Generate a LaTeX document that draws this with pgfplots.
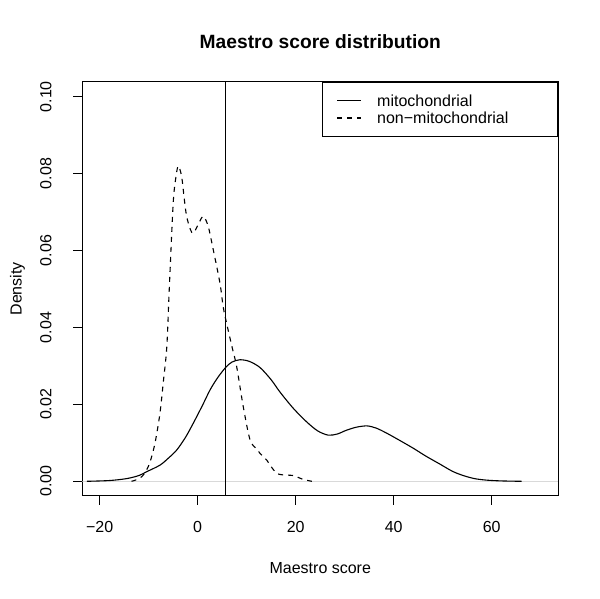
\documentclass[border=0pt]{standalone}
\usepackage{fontspec}
\setmainfont{Liberation Sans}
\usepackage{pgfplots}
\pgfplotsset{compat=1.18}
\begin{document}
\begin{tikzpicture}
\useasboundingbox (0,0) rectangle (600pt,599pt);
\begin{axis}[
  at={(82.3pt,103pt)}, anchor=south west,
  scale only axis, width=476pt, height=414.3pt,
  xmin=-23.55, xmax=73.6, ymin=-0.00382, ymax=0.1039,
  axis line style={line width=1pt},
  xtick={-20,0,20,40,60}, xticklabels={−20,0,20,40,60},
  ytick={0,0.02,0.04,0.06,0.08,0.10},
  yticklabels={0.00,0.02,0.04,0.06,0.08,0.10},
  xtick pos=left, ytick pos=left, tick align=outside,
  major tick length=9pt, tick style={black, line width=1pt},
  tick label style={font=\fontsize{16}{19}\selectfont},
  xticklabel style={anchor=base, yshift=-28pt},
  yticklabel style={xshift=-22pt, rotate=90, anchor=base},
  label style={font=\fontsize{16}{19}\selectfont},
  xlabel={Maestro score},
  xlabel style={at={(axis description cs:0.5,0)}, anchor=base, yshift=-77.3pt},
  ylabel={Density},
  ylabel style={at={(axis description cs:0,0.5)}, anchor=base, yshift=60.6pt},
  title={Maestro score distribution},
  title style={at={(axis description cs:0.5,1)}, anchor=base, yshift=27.4pt,
    font=\bfseries\fontsize{19.2}{23}\selectfont},
  legend cell align=left,
  legend image code/.code={\draw[#1] (0pt,0pt) -- (23.4pt,0pt);},
  legend style={at={(1,1)}, anchor=north east, draw=black, line width=1pt,
    inner xsep=14pt, inner ysep=9.85pt, row sep=0pt, column sep=16pt,
    font=\fontsize{16}{19}\selectfont,
    nodes={inner sep=0pt, text height=14.45pt, text depth=2.85pt, text width=166.6pt}},
]
\addplot[black!15, line width=0.8pt, forget plot] coordinates {(-23.55,0) (73.6,0)};
\addplot[black, line width=1.1pt, smooth, tension=0.5] coordinates {
(-22.6,0) (-18,0.0002) (-14.5,0.0007) (-12,0.0015) (-10.4,0.0025) (-7.7,0.0042)
(-6,0.0060) (-4.3,0.0081) (-2.5,0.0114) (-0.9,0.0151) (1,0.0198) (2.5,0.0237)
(4,0.0268) (5.7,0.0296) (7,0.0310) (8.6,0.0316) (10.5,0.0312) (12.7,0.0296)
(15,0.0264) (16.8,0.0232) (19.5,0.0190) (22.2,0.0155) (24.5,0.0131) (26.65,0.0120)
(28.5,0.0123) (30.4,0.0133) (32.5,0.0141) (34.6,0.0144) (36.5,0.0138) (38.6,0.0125)
(41,0.0108) (44,0.0086) (46.5,0.0066) (49.4,0.0045) (52,0.0026) (54.2,0.0015)
(56.5,0.0007) (59,0.0003) (62,0.0001) (66.1,0)};
\addlegendentry{mitochondrial}
\addplot[black, line width=1.1pt, dash pattern=on 5pt off 5pt, smooth, tension=0.5] coordinates {
(-13.5,0) (-12.5,0.0004) (-11.4,0.0012) (-10.5,0.0028) (-9.7,0.0051) (-8.7,0.0100)
(-7.7,0.0177) (-7,0.0260) (-6.3,0.0350) (-5.8,0.0500) (-5.0,0.0723) (-4.43,0.0792)
(-3.95,0.0820) (-3.27,0.0792) (-2.7,0.0730) (-2.24,0.0688) (-1.5,0.0655) (-0.9,0.0645)
(0,0.0665) (0.8,0.0685) (1.29,0.0688) (2.17,0.0662) (3.18,0.0602) (4.55,0.0515)
(5.2,0.0454) (5.9,0.0411) (7,0.0350) (7.96,0.0298) (9.3,0.0194) (10.7,0.0107)
(12,0.0085) (12.7,0.0073) (14.1,0.0055) (15,0.0038) (16.1,0.0021) (17.2,0.0017)
(18.5,0.0016) (19.5,0.0015) (20.2,0.0012) (21.5,0.0005) (23.3,0)};
\addlegendentry{non−mitochondrial}
\addplot[black, line width=1.1pt, forget plot] coordinates {(5.7,-0.00382) (5.7,0.1039)};
\end{axis}
\end{tikzpicture}
\end{document}
